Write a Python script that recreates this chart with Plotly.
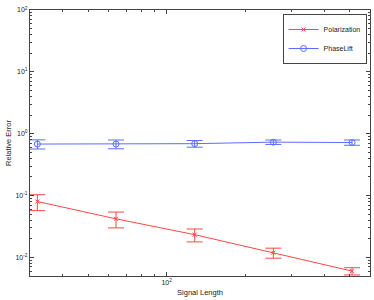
import plotly.graph_objects as go

signal_length = [32, 64, 128, 256, 512]
polarization = [0.080, 0.042, 0.0233, 0.0119, 0.0060]
polarization_err = [0.023, 0.012, 0.0055, 0.0022, 0.0008]
phaselift = [0.68, 0.68, 0.69, 0.73, 0.72]
phaselift_err = [0.115, 0.11, 0.085, 0.06, 0.07]

red = "rgb(255,70,70)"
blue = "rgb(90,110,255)"
ink = "#222222"

fig = go.Figure()
fig.add_trace(go.Scatter(
    x=signal_length, y=polarization, name="Polarization",
    mode="lines+markers",
    line=dict(color=red, width=1),
    marker=dict(symbol="x-thin", size=4, color=red, line=dict(color=red, width=1)),
    error_y=dict(type="data", array=polarization_err, color=red, thickness=1, width=8),
))
fig.add_trace(go.Scatter(
    x=signal_length, y=phaselift, name="PhaseLift",
    mode="lines+markers",
    line=dict(color=blue, width=1),
    marker=dict(symbol="circle-open", size=6, color=blue, line=dict(color=blue, width=1)),
    error_y=dict(type="data", array=phaselift_err, color=blue, thickness=1, width=8),
))

axis_common = dict(
    showline=True, linecolor="#444", linewidth=1, mirror="allticks",
    ticks="inside", ticklen=4, tickcolor="#444", showgrid=False, zeroline=False,
    tickfont=dict(size=7, color=ink, family="Liberation Sans, Arial"),
    exponentformat="power",
)

fig.update_layout(
    width=374, height=300,
    margin=dict(l=30, r=4, t=10, b=24),
    paper_bgcolor="white", plot_bgcolor="white",
    font=dict(family="Liberation Sans, Arial", size=7, color=ink),
    xaxis=dict(
        type="log", range=[1.477, 2.778],
        tickvals=[100], ticktext=["10<sup>2</sup>"],
        minor=dict(ticks="inside", ticklen=2, tickcolor="#444",
                   tickvals=[40, 50, 60, 70, 80, 90, 200, 300, 400, 500]),
        title=dict(text="Signal Length", font=dict(size=7.5, color=ink), standoff=4),
        **axis_common,
    ),
    yaxis=dict(
        type="log", range=[-2.301, 2],
        tickvals=[0.01, 0.1, 1, 10, 100],
        ticktext=["10<sup>-2</sup>", "10<sup>-1</sup>", "10<sup>0</sup>", "10<sup>1</sup>", "10<sup>2</sup>"],
        minor=dict(ticks="inside", ticklen=2, tickcolor="#444",
                   tickvals=[m * 10 ** e for e in range(-3, 2) for m in range(2, 10)]),
        title=dict(text="Relative Error", font=dict(size=7.5, color=ink), standoff=2),
        **axis_common,
    ),
    legend=dict(
        x=0.99, y=0.985, xanchor="right", yanchor="top",
        bordercolor="#444", borderwidth=1, bgcolor="white",
        font=dict(size=7, color=ink), tracegroupgap=0, itemwidth=30,
    ),
    showlegend=True,
    hovermode=False,
)

fig.write_html(
    "out.html",
    config={"displayModeBar": False, "staticPlot": True},
    post_script="document.body.style.margin='0';document.body.style.overflow='hidden';",
)
